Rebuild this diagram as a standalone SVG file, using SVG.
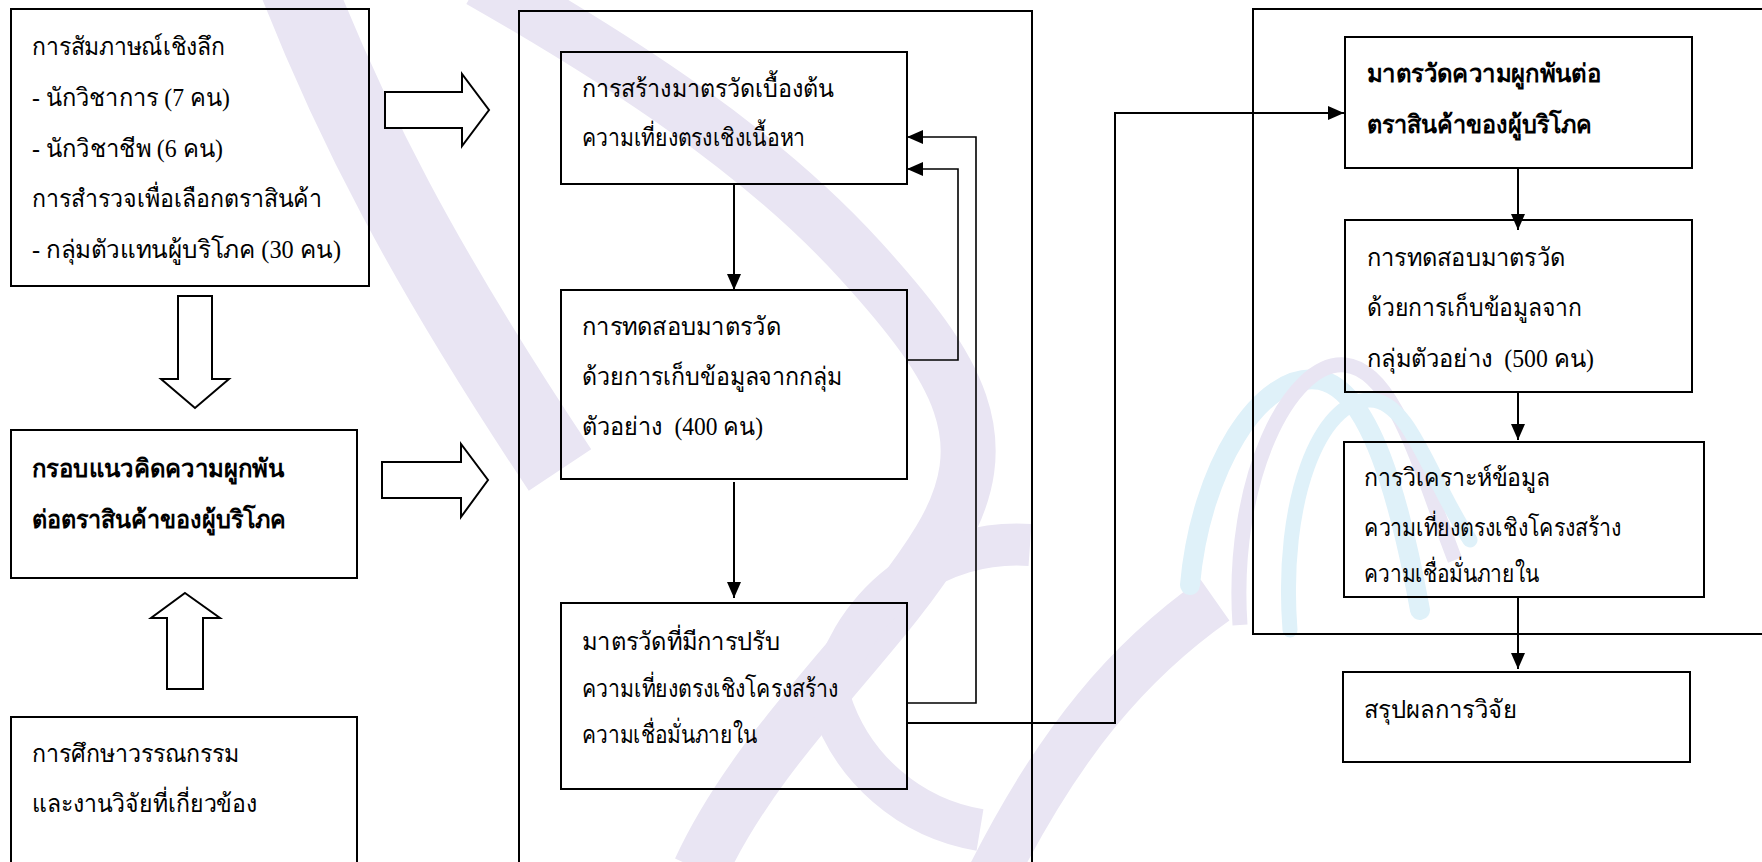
<svg xmlns="http://www.w3.org/2000/svg" width="1762" height="862" viewBox="0 0 1762 862">
<style>
.box{fill:none;stroke:#000;stroke-width:2}
.frame{fill:none;stroke:#000;stroke-width:2}
.blk{fill:#fff;stroke:#000;stroke-width:2;stroke-linejoin:miter}
.ln{fill:none;stroke:#000;stroke-width:2}
.fb{fill:none;stroke:#000;stroke-width:1.6}
.t{font-family:"Liberation Serif","DejaVu Serif",serif;font-size:25px;fill:#000;white-space:pre}
.b{font-weight:bold}
.wm{fill:none;stroke:#e9e5f3;stroke-linecap:butt}
.wc{fill:none;stroke:#dff1f9;stroke-linecap:round}
</style>
<defs>
<marker id="ah" markerUnits="userSpaceOnUse" markerWidth="18" markerHeight="14" refX="16" refY="7" orient="auto">
<path d="M0,0 L16,7 L0,14 Z" fill="#000"/>
</marker>
</defs>
<rect width="1762" height="862" fill="#fff"/>
<g id="watermark">
<path class="wm" stroke-width="75" d="M295,-20 C350,120 420,260 560,470"/>
<path class="wm" stroke-width="55" d="M480,-20 C620,60 760,150 860,260 C960,370 1000,440 940,540 C880,640 760,740 700,870"/>
<path class="wm" stroke-width="42" d="M1030,545 A190,190 0 0 0 830,700 A190,190 0 0 0 980,830"/>
<path class="wm" stroke-width="50" d="M1215,600 C1130,660 1060,740 990,880"/>
<path class="wc" stroke-width="20" d="M1190,585 C1200,470 1260,370 1320,380 C1370,390 1400,500 1420,610"/>
<path class="wm" stroke-width="15" d="M1240,625 C1230,480 1290,360 1345,365 C1395,370 1420,470 1455,560"/>
<path class="wc" stroke-width="15" d="M1290,630 C1280,500 1320,400 1370,400 C1410,400 1430,480 1470,540"/>
</g>
<g id="frames">
<rect class="frame" x="519" y="11" width="513" height="900"/>
<path class="frame" d="M1800,9 H1253 V634 H1800"/>
</g>
<g id="n-interview">
<rect class="box" x="11" y="9" width="358" height="277"/>
<text class="t" x="32" y="55" textLength="193" lengthAdjust="spacingAndGlyphs">การสัมภาษณ์เชิงลึก</text>
<text class="t" x="32" y="106" textLength="198" lengthAdjust="spacingAndGlyphs">- นักวิชาการ (7 คน)</text>
<text class="t" x="32" y="157" textLength="191" lengthAdjust="spacingAndGlyphs">- นักวิชาชีพ (6 คน)</text>
<text class="t" x="32" y="207" textLength="290" lengthAdjust="spacingAndGlyphs">การสำรวจเพื่อเลือกตราสินค้า</text>
<text class="t" x="32" y="258" textLength="309" lengthAdjust="spacingAndGlyphs">- กลุ่มตัวแทนผู้บริโภค (30 คน)</text>
</g>
<g id="n-framework">
<rect class="box" x="11" y="430" width="346" height="148"/>
<text class="t b" x="32" y="477" textLength="252" lengthAdjust="spacingAndGlyphs">กรอบแนวคิดความผูกพัน</text>
<text class="t b" x="32" y="528" textLength="254" lengthAdjust="spacingAndGlyphs">ต่อตราสินค้าของผู้บริโภค</text>
</g>
<g id="n-literature">
<rect class="box" x="11" y="717" width="346" height="200"/>
<text class="t" x="32" y="762" textLength="207" lengthAdjust="spacingAndGlyphs">การศึกษาวรรณกรรม</text>
<text class="t" x="32" y="812" textLength="225" lengthAdjust="spacingAndGlyphs">และงานวิจัยที่เกี่ยวข้อง</text>
</g>
<g id="block-arrows">
<polygon class="blk" points="385,92 462,92 462,74 489,110 462,146 462,128 385,128"/>
<polygon class="blk" points="382,462 461,462 461,444 488,480 461,517 461,498 382,498"/>
<polygon class="blk" points="178,296 212,296 212,379 229,379 195,408 161,379 178,379"/>
<polygon class="blk" points="185,593 220,618 203,618 203,689 167,689 167,618 151,618"/>
</g>
<g id="n-initial">
<rect class="box" x="561" y="52" width="346" height="132"/>
<text class="t" x="582" y="97" textLength="252" lengthAdjust="spacingAndGlyphs">การสร้างมาตรวัดเบื้องต้น</text>
<text class="t" x="582" y="146" textLength="223" lengthAdjust="spacingAndGlyphs">ความเที่ยงตรงเชิงเนื้อหา</text>
</g>
<g id="n-test400">
<rect class="box" x="561" y="290" width="346" height="189"/>
<text class="t" x="582" y="335" textLength="199" lengthAdjust="spacingAndGlyphs">การทดสอบมาตรวัด</text>
<text class="t" x="582" y="385" textLength="260" lengthAdjust="spacingAndGlyphs">ด้วยการเก็บข้อมูลจากกลุ่ม</text>
<text class="t" x="582" y="435" textLength="181" lengthAdjust="spacingAndGlyphs">ตัวอย่าง  (400 คน)</text>
</g>
<g id="n-revised">
<rect class="box" x="561" y="603" width="346" height="186"/>
<text class="t" x="582" y="650" textLength="198" lengthAdjust="spacingAndGlyphs">มาตรวัดที่มีการปรับ</text>
<text class="t" x="582" y="697" textLength="256" lengthAdjust="spacingAndGlyphs">ความเที่ยงตรงเชิงโครงสร้าง</text>
<text class="t" x="582" y="743" textLength="175" lengthAdjust="spacingAndGlyphs">ความเชื่อมั่นภายใน</text>
</g>
<g id="n-scale">
<rect class="box" x="1345" y="37" width="347" height="131"/>
<text class="t b" x="1367" y="82" textLength="234" lengthAdjust="spacingAndGlyphs">มาตรวัดความผูกพันต่อ</text>
<text class="t b" x="1367" y="133" textLength="225" lengthAdjust="spacingAndGlyphs">ตราสินค้าของผู้บริโภค</text>
</g>
<g id="n-test500">
<rect class="box" x="1345" y="220" width="347" height="172"/>
<text class="t" x="1367" y="266" textLength="198" lengthAdjust="spacingAndGlyphs">การทดสอบมาตรวัด</text>
<text class="t" x="1367" y="316" textLength="215" lengthAdjust="spacingAndGlyphs">ด้วยการเก็บข้อมูลจาก</text>
<text class="t" x="1367" y="367" textLength="227" lengthAdjust="spacingAndGlyphs">กลุ่มตัวอย่าง  (500 คน)</text>
</g>
<g id="n-analysis">
<rect class="box" x="1344" y="442" width="360" height="155"/>
<text class="t" x="1364" y="486" textLength="186" lengthAdjust="spacingAndGlyphs">การวิเคราะห์ข้อมูล</text>
<text class="t" x="1364" y="536" textLength="257" lengthAdjust="spacingAndGlyphs">ความเที่ยงตรงเชิงโครงสร้าง</text>
<text class="t" x="1364" y="582" textLength="175" lengthAdjust="spacingAndGlyphs">ความเชื่อมั่นภายใน</text>
</g>
<g id="n-conclusion">
<rect class="box" x="1343" y="672" width="347" height="90"/>
<text class="t" x="1364" y="718" textLength="153" lengthAdjust="spacingAndGlyphs">สรุปผลการวิจัย</text>
</g>
<g id="connectors">
<path class="ln" d="M734,184 V290" marker-end="url(#ah)"/>
<path class="ln" d="M734,482 V598" marker-end="url(#ah)"/>
<path class="fb" d="M907,360 H958 V169 H907" marker-end="url(#ah)"/>
<path class="fb" d="M907,703 H976 V137 H907" marker-end="url(#ah)"/>
<path class="ln" d="M907,723 H1115 V113 H1344" marker-end="url(#ah)"/>
<path class="ln" d="M1518,168 V230" marker-end="url(#ah)"/>
<path class="ln" d="M1518,392 V440" marker-end="url(#ah)"/>
<path class="ln" d="M1518,597 V669" marker-end="url(#ah)"/>
</g>
</svg>
